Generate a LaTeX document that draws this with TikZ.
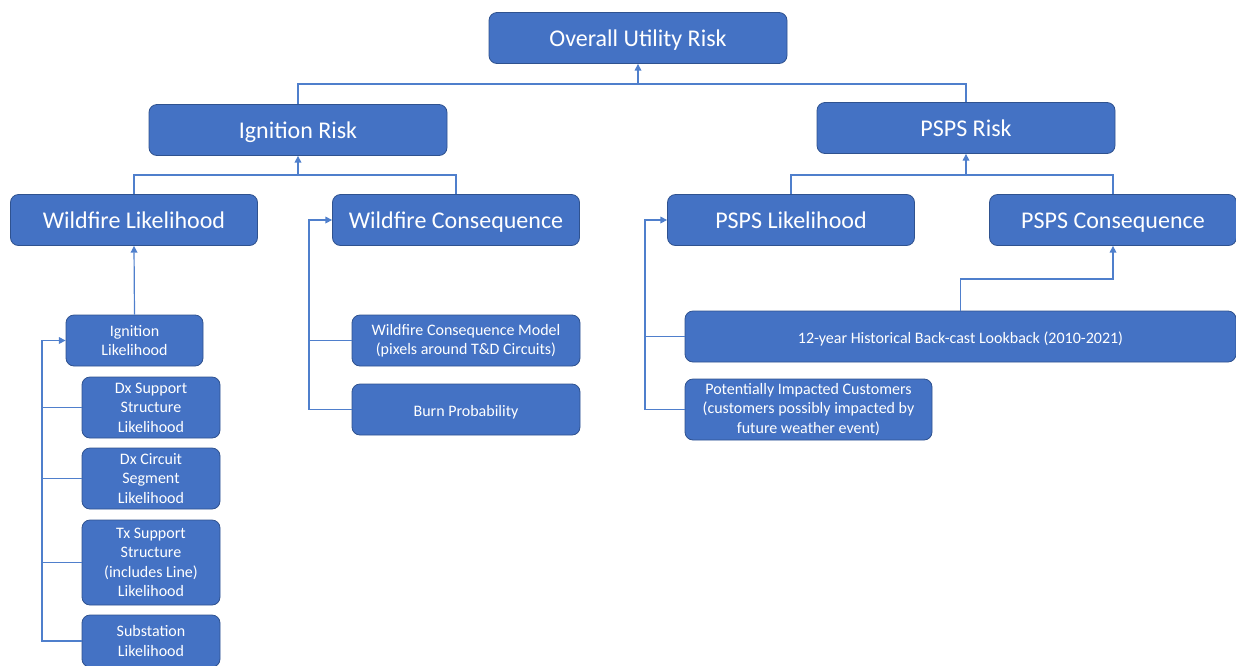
\documentclass[tikz,border=0pt]{standalone}
\usepackage{fontspec}
\setmainfont{Carlito}
\usepackage{xcolor}
\definecolor{BoxBlue}{HTML}{4472C4}
\definecolor{EdgeBlue}{HTML}{2F528F}
\definecolor{LinkBlue}{HTML}{4F7FCC}
\usepackage{tikz}
\usetikzlibrary{arrows.meta, calc}

\begin{document}
\begin{tikzpicture}[x=0.75pt, y=-0.75pt, >={Triangle[length=5pt,width=5pt]},
  box/.style={draw=EdgeBlue, line width=0.6pt, fill=BoxBlue, text=white, rounded corners=6pt,
    inner sep=0pt, align=center, minimum height=38.25pt},
  bigbox/.style={box, font=\fontsize{18}{22}\selectfont, text height=15pt, text depth=2pt},
  subbox/.style={box, font=\fontsize{12}{14.6}\selectfont},
  onebox/.style={subbox, text height=11pt, text depth=1pt},
  link/.style={draw=LinkBlue, line width=0.9pt}]
  \useasboundingbox (0,0) rectangle (1236,665);

  % Top levels
  \node[bigbox, minimum width=223.5pt] (overall) at (638,38) {Overall Utility Risk};
  \node[bigbox, minimum width=223.5pt] (ignrisk) at (298,130) {Ignition Risk};
  \node[bigbox, minimum width=223.5pt] (pspsrisk) at (966,128) {PSPS Risk};

  % Second level
  \node[bigbox, minimum width=185.25pt] (wflike) at (134,220) {Wildfire Likelihood};
  \node[bigbox, minimum width=185.25pt] (wfcons) at (456,220) {Wildfire Consequence};
  \node[bigbox, minimum width=185.25pt] (pslike) at (791,220) {PSPS Likelihood};
  \node[bigbox, minimum width=185.25pt] (pscons) at (1113,220) {PSPS Consequence};

  % Ignition likelihood inputs
  \node[subbox, minimum width=102.75pt] (ignlike) at (134.5,340.5) {Ignition\\Likelihood};
  \node[subbox, minimum width=103.5pt, minimum height=45.75pt] (dxsup) at (151,407.5) {Dx Support\\Structure\\Likelihood};
  \node[subbox, minimum width=103.5pt, minimum height=45.75pt] (dxcir) at (151,478.5) {Dx Circuit\\Segment\\Likelihood};
  \node[subbox, minimum width=103.5pt, minimum height=63.75pt] (txsup) at (151,562.5) {Tx Support\\Structure\\(includes Line)\\Likelihood};
  \node[subbox, minimum width=103.5pt, minimum height=39pt] (substn) at (151,641) {Substation\\Likelihood};

  % Wildfire consequence inputs
  \node[subbox, minimum width=171pt] (wfmodel) at (466,340.5) {Wildfire Consequence Model\\(pixels around T\&D Circuits)};
  \node[onebox, minimum width=171pt] (burnprob) at (466,409.5) {Burn Probability};

  % PSPS inputs
  \node[onebox, minimum width=413.25pt] (backcast) at (960.5,336.5) {12-year Historical Back-cast Lookback (2010-2021)};
  \node[subbox, minimum width=185.25pt, minimum height=45.75pt] (impcust) at (808.5,409.5) {Potentially Impacted Customers\\(customers possibly impacted by\\future weather event)};

  % Joints
  \coordinate (jtop) at (638,84);
  \coordinate (jign) at (298,175);
  \coordinate (jpsps) at (966,175);
  \coordinate (jcast) at (1113,279);
  \coordinate (busign) at (42,340.5);
  \coordinate (buswf) at (309,220);
  \coordinate (busps) at (645,220);

  % Connectors
  \draw[link] (ignrisk.north) |- (jtop);
  \draw[link] (pspsrisk.north) |- (jtop);
  \draw[link, ->] (jtop) -- (overall.south);

  \draw[link] (wflike.north) |- (jign) -| (wfcons.north);
  \draw[link, ->] (jign) -- (ignrisk.south);
  \draw[link] (pslike.north) |- (jpsps) -| (pscons.north);
  \draw[link, ->] (jpsps) -- (pspsrisk.south);

  \draw[link, ->] (ignlike.north) -- (wflike.south);
  \draw[link, ->] (substn.west) -| (busign) -- (ignlike.west);
  \foreach \n in {dxsup, dxcir, txsup}
    \draw[link] (\n.west) -- (\n.west -| busign);

  \draw[link, ->] (burnprob.west) -| (buswf) -- (wfcons.west);
  \draw[link] (wfmodel.west) -- (wfmodel.west -| buswf);

  \draw[link, ->] (impcust.west) -| (busps) -- (pslike.west);
  \draw[link] (backcast.west) -- (backcast.west -| busps);
  \draw[link, ->] (backcast.north) |- (jcast) -- (pscons.south);
\end{tikzpicture}
\end{document}
